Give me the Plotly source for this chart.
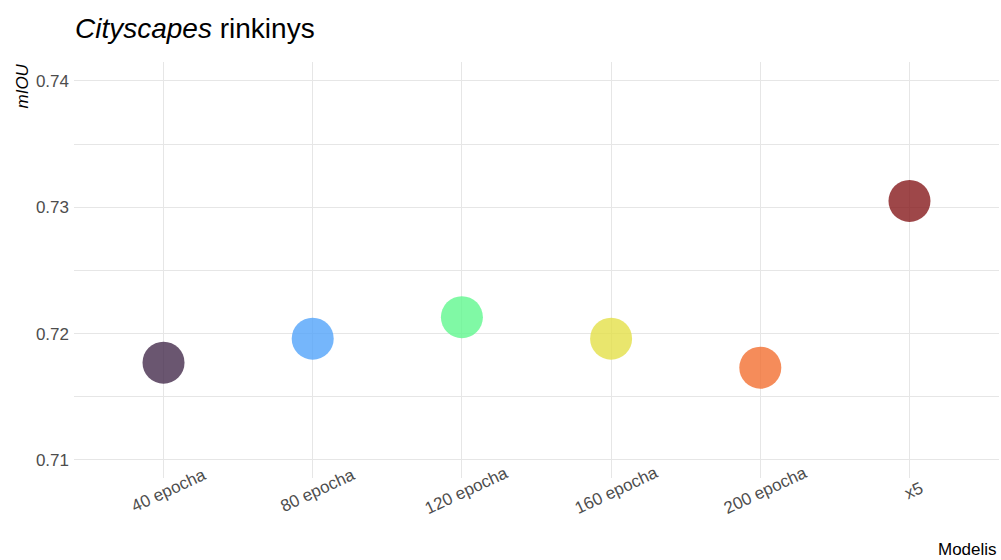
import plotly.graph_objects as go

# Cityscapes mIOU per model variant
models = ["40 epocha", "80 epocha", "120 epocha", "160 epocha", "200 epocha", "x5"]
miou = [0.7177, 0.7196, 0.7213, 0.7196, 0.7173, 0.7305]
colors = ["#452c4c", "#52a4fa", "#60f78f", "#e3e048", "#f26f31", "#86191c"]

FONT = "Liberation Sans, Arial, sans-serif"
GRID = "#e6e6e6"

fig = go.Figure()
fig.add_trace(go.Scatter(
    x=list(range(len(models))),
    y=miou,
    mode="markers",
    marker=dict(size=42, color=colors, opacity=0.8, line=dict(width=0)),
    hovertext=models,
    showlegend=False,
))

# rotated category labels, centred under each position
for i, name in enumerate(models):
    fig.add_annotation(
        x=i, xref="x", y=-0.031, yref="paper",
        text=name, textangle=-25, showarrow=False,
        xshift=5, xanchor="center", yanchor="middle",
        font=dict(family=FONT, size=17, color="#4d4d4d"),
    )

fig.add_annotation(
    x=0, xref="paper", y=1.0, yref="paper",
    text="<i>mIOU</i>", textangle=-90, showarrow=False,
    xshift=-52, xanchor="center", yanchor="top",
    font=dict(family=FONT, size=17, color="#000000"),
)
fig.add_annotation(
    x=1.0, xref="paper", y=-0.172, yref="paper",
    text="Modelis", showarrow=False,
    xanchor="right", yanchor="middle",
    font=dict(family=FONT, size=17, color="#000000"),
)

fig.update_layout(
    width=1001, height=560,
    margin=dict(l=74, r=2, t=62, b=82),
    paper_bgcolor="white", plot_bgcolor="white",
    title=dict(
        text="<i>Cityscapes</i> rinkinys",
        x=75 / 1001, xanchor="left", xref="container",
        y=1 - 28 / 560, yanchor="middle", yref="container",
        font=dict(family=FONT, size=28, color="#000000"),
    ),
    font=dict(family=FONT),
)
fig.update_xaxes(
    range=[-0.6, 5.6], tickvals=list(range(len(models))),
    showticklabels=False, showgrid=True, gridcolor=GRID, gridwidth=1,
    zeroline=False, showline=False, ticks="",
)
fig.update_yaxes(
    range=[0.70857, 0.7415], dtick=0.01, tick0=0.70,
    tickformat=".2f", showgrid=True, gridcolor=GRID, gridwidth=1,
    minor=dict(dtick=0.005, tick0=0.70, showgrid=True, gridcolor=GRID, gridwidth=1),
    zeroline=False, showline=False, ticks="", ticklabelstandoff=4,
    tickfont=dict(family=FONT, size=17, color="#4d4d4d"),
)

fig.write_html("out.html")
